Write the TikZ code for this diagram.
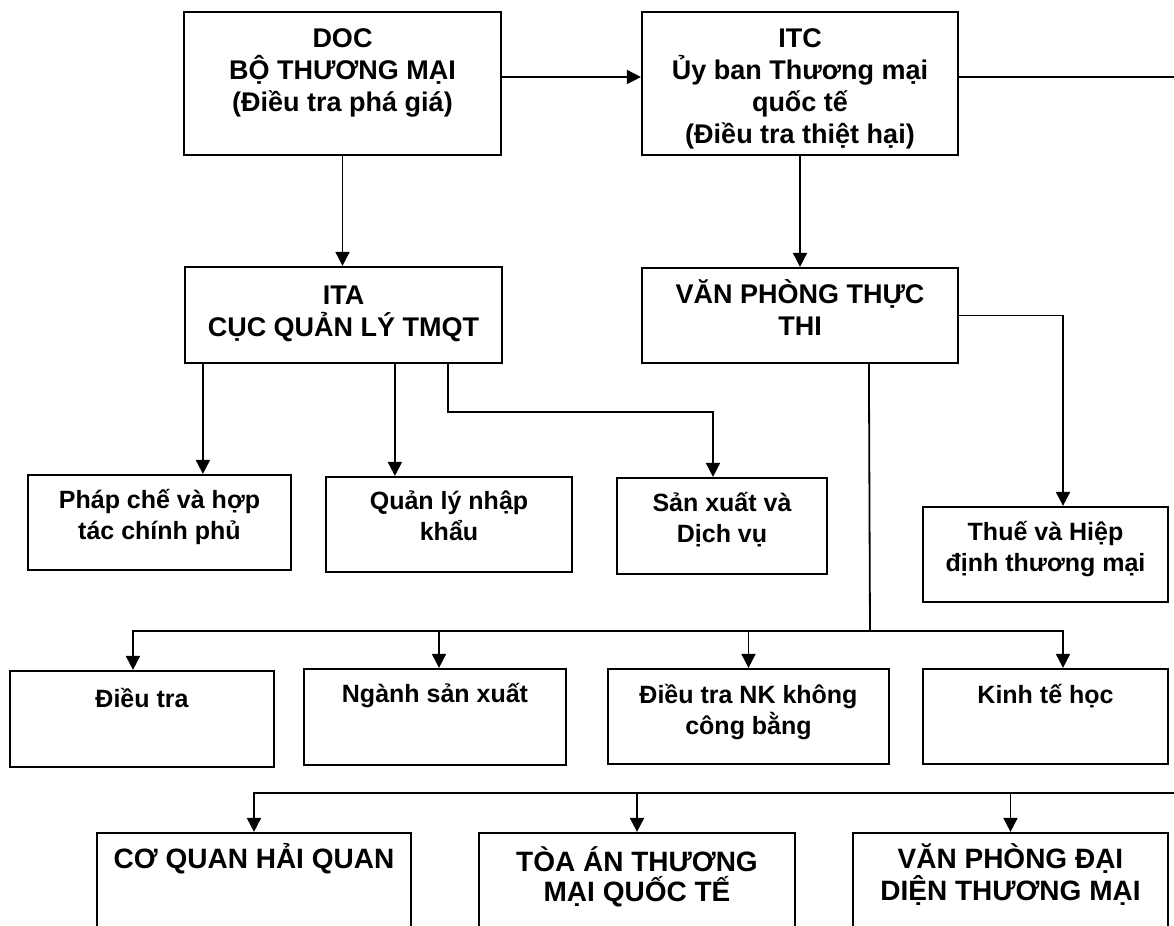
\documentclass[tikz,border=0pt]{standalone}
\usepackage{fontspec}
\setmainfont{Liberation Sans}
\usetikzlibrary{arrows.meta,positioning}
\tikzset{arrow/.style={line width=0.9pt,-{Triangle[length=7pt,width=7pt]}}}

\begin{document}
\begin{tikzpicture}
        [
            x=0.5pt,y=-0.5pt,
            box/.style={rectangle,draw=black,line width=1.1pt,inner sep=0pt},
            txt/.style={align=center,inner sep=0pt,font=\bfseries\fontsize{13.5}{16}\selectfont},
            small/.style={align=center,inner sep=0pt,font=\bfseries\fontsize{12.5}{15.5}\selectfont},
            big/.style={align=center,inner sep=0pt,font=\bfseries\fontsize{14}{15}\selectfont},
            line/.style={line width=0.9pt},
        ]

    \useasboundingbox (0,0) rectangle (1174,926);
    \clip (0,0) rectangle (1174,926);

    \node[box,minimum width=158.5pt,minimum height=71.5pt] (doc) at (342.5,83.5){};
    \node[box,minimum width=158pt,minimum height=71.5pt] (itc) at (800,83.5){};
    \node[box,minimum width=158.5pt,minimum height=48pt] (ita) at (343.5,315){};
    \node[box,minimum width=158pt,minimum height=47.5pt] (vptt) at (800,315.5){};

    \node[box,minimum width=131.5pt,minimum height=47.5pt] (phap) at (159.5,522.5){};
    \node[box,minimum width=123pt,minimum height=47.5pt] (qly) at (449,524.5){};
    \node[box,minimum width=105pt,minimum height=48pt] (sx) at (722,526){};
    \node[box,minimum width=122.5pt,minimum height=47.5pt] (thue) at (1045.5,554.5){};

    \node[box,minimum width=132pt,minimum height=48pt] (dt) at (142,719){};
    \node[box,minimum width=131pt,minimum height=48pt] (ngs) at (435,717){};
    \node[box,minimum width=140.5pt,minimum height=47.5pt] (dtnk) at (748.5,716.5){};
    \node[box,minimum width=122.5pt,minimum height=47.5pt] (kt) at (1045.5,716.5){};

    \node[box,minimum width=157pt,minimum height=83.5pt] (cq) at (254,916.5){};
    \node[box,minimum width=158pt,minimum height=83.5pt] (toa) at (637,916.5){};
    \node[box,minimum width=157.5pt,minimum height=83.5pt] (vpdd) at (1010.5,916.5){};

    \node[txt] (doc-t) at (342.5,72.5){DOC\\BỘ THƯƠNG MẠI\\(Điều tra phá giá)};
    \node[txt] (itc-t) at (800,88.5){ITC\\Ủy ban Thương mại\\quốc tế\\(Điều tra thiệt hại)};
    \node[txt] (ita-t) at (343.5,314){ITA\\CỤC QUẢN LÝ TMQT};
    \node[txt] (vptt-t) at (800,307.5){VĂN PHÒNG THỰC\\THI};

    \node[small] (phap-t) at (159.5,517){Pháp chế và hợp\\tác chính phủ};
    \node[small] (qly-t) at (449,516){Quản lý nhập\\khẩu};
    \node[small] (sx-t) at (722,519.5){Sản xuất và\\Dịch vụ};
    \node[small] (thue-t) at (1045.5,549){Thuế và Hiệp\\định thương mại};

    \node[small] (dt-t) at (142,698){Điều tra};
    \node[small] (ngs-t) at (435,696){Ngành sản xuất};
    \node[small] (dtnk-t) at (748.5,712){Điều tra NK không\\công bằng};
    \node[small] (kt-t) at (1045.5,696){Kinh tế học};

    \node[big] (cq-t) at (254,859){CƠ QUAN HẢI QUAN};
    \node[big] (toa-t) at (637,877){TÒA ÁN THƯƠNG\\MẠI QUỐC TẾ};
    \node[big] (vpdd-t) at (1010.5,875){VĂN PHÒNG ĐẠI\\DIỆN THƯƠNG MẠI};

    \coordinate (eR) at (1174,77);
    \coordinate (bus1) at (870,631);
    \coordinate (bus2) at (1174,793);

    \draw[arrow] ([yshift=3.25pt]doc.east) -- ([yshift=3.25pt]itc.west);
    \draw[line] ([yshift=3.25pt]itc.east) -- (eR);
    \draw[arrow] (doc.south) -- (doc.south |- ita.north);
    \draw[arrow] (itc.south) -- (vptt.north);

    \draw[arrow] ([xshift=9.5pt]ita.south west) -- ([xshift=9.5pt]ita.south west |- phap.north);
    \draw[arrow] ([xshift=105.5pt]ita.south west) -- ([xshift=105.5pt]ita.south west |- qly.north);
    \draw[arrow] ([xshift=132pt]ita.south west) -- ++(0,48) -| ([xshift=-4.5pt]sx.north);

    \draw[arrow] (vptt.east) -| ([xshift=8.75pt]thue.north);
    \draw[line] ([xshift=114pt]vptt.south west) -- (bus1);
    \draw[arrow] (bus1) -| ([xshift=-4.5pt]dt.north);
    \draw[arrow] (bus1) -| ([xshift=2pt]ngs.north);
    \draw[arrow] (bus1) -| (dtnk.north);
    \draw[arrow] (bus1) -| ([xshift=8.75pt]kt.north);

    \draw[arrow] (bus2) -| (cq.north);
    \draw[arrow] (bus2) -| (toa.north);
    \draw[arrow] (bus2) -| (vpdd.north);
\end{tikzpicture}
\end{document}
